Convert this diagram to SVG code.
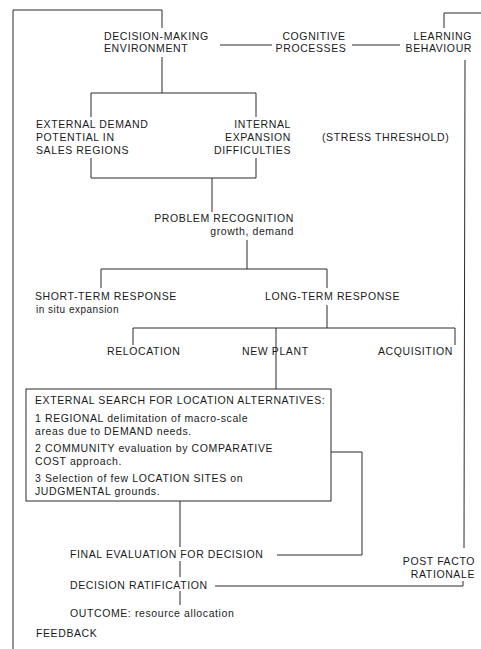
<svg xmlns="http://www.w3.org/2000/svg" width="481" height="649" viewBox="0 0 481 649">
<style>
text{font-family:"Liberation Sans",Arial,sans-serif;font-size:10.5px;letter-spacing:0.6px;fill:#1a1a1a}
.s{font-size:10px;letter-spacing:0.5px}
#connectors path,#connectors line{stroke:#2a2a2a;stroke-width:1;fill:none}
.box{fill:#fff;stroke:#2a2a2a;stroke-width:1}
</style>
<rect width="481" height="649" fill="#fff"/>
<g id="connectors">
<path d="M13,649 V10 H162 V28"/>
<path d="M481,13 H444 V28"/>
<line x1="220" y1="45" x2="272" y2="45"/>
<line x1="352" y1="45" x2="400" y2="45"/>
<line x1="465" y1="60" x2="464" y2="548"/>
<path d="M162,57 V93"/>
<path d="M91,117 V93 H256 V117"/>
<path d="M91,158 V178 H256 V158"/>
<path d="M212,178 V212"/>
<path d="M247,240 V269"/>
<path d="M101,288 V269 H327 V288"/>
<path d="M327,305 V328"/>
<path d="M133,345 V328 H455 V345"/>
<path d="M276,328 V389"/>
<path d="M331,452 H362 V555 H277"/>
<path d="M180,501 V547"/>
<path d="M180,561 V577"/>
<path d="M180,591 V605"/>
<path d="M215,586 H463 V581"/>
</g>
<g id="decision-making-environment"><text x="104" y="40">DECISION-MAKING</text><text x="104" y="52">ENVIRONMENT</text></g>
<g id="cognitive-processes"><text x="314" y="40" text-anchor="middle">COGNITIVE</text><text x="311" y="52" text-anchor="middle">PROCESSES</text></g>
<g id="learning-behaviour"><text x="472" y="40" text-anchor="end">LEARNING</text><text x="472" y="52" text-anchor="end">BEHAVIOUR</text></g>
<g id="external-demand"><text x="36" y="128">EXTERNAL DEMAND</text><text x="36" y="141">POTENTIAL IN</text><text x="36" y="154">SALES REGIONS</text></g>
<g id="internal-expansion"><text x="291" y="128" text-anchor="end">INTERNAL</text><text x="291" y="141" text-anchor="end">EXPANSION</text><text x="291" y="154" text-anchor="end">DIFFICULTIES</text></g>
<g id="stress-threshold"><text x="322" y="141">(STRESS THRESHOLD)</text></g>
<g id="problem-recognition"><text x="294" y="222" text-anchor="end">PROBLEM RECOGNITION</text><text x="294" y="235" text-anchor="end">growth, demand</text></g>
<g id="short-term-response"><text x="35" y="300">SHORT-TERM RESPONSE</text><text class="s" x="36" y="313">in situ expansion</text></g>
<g id="long-term-response"><text x="265" y="300">LONG-TERM RESPONSE</text></g>
<g id="relocation"><text x="107" y="355">RELOCATION</text></g>
<g id="new-plant"><text x="242" y="355">NEW PLANT</text></g>
<g id="acquisition"><text x="378" y="355">ACQUISITION</text></g>
<g id="external-search">
<rect class="box" x="26" y="389" width="305" height="112"/>
<text x="35" y="404">EXTERNAL SEARCH FOR LOCATION ALTERNATIVES:</text>
<text x="35" y="422">1 REGIONAL delimitation of macro-scale</text>
<text x="35" y="435">areas due to DEMAND needs.</text>
<text x="35" y="452">2 COMMUNITY evaluation by COMPARATIVE</text>
<text x="35" y="465">COST approach.</text>
<text x="35" y="482">3 Selection of few LOCATION SITES on</text>
<text x="35" y="495">JUDGMENTAL grounds.</text>
</g>
<g id="final-evaluation"><text x="70" y="558">FINAL EVALUATION FOR DECISION</text></g>
<g id="post-facto-rationale"><text x="475" y="565" text-anchor="end">POST FACTO</text><text x="475" y="578" text-anchor="end">RATIONALE</text></g>
<g id="decision-ratification"><text x="70" y="589">DECISION RATIFICATION</text></g>
<g id="outcome"><text x="70" y="617">OUTCOME: resource allocation</text></g>
<g id="feedback"><text x="36" y="637">FEEDBACK</text></g>
</svg>
